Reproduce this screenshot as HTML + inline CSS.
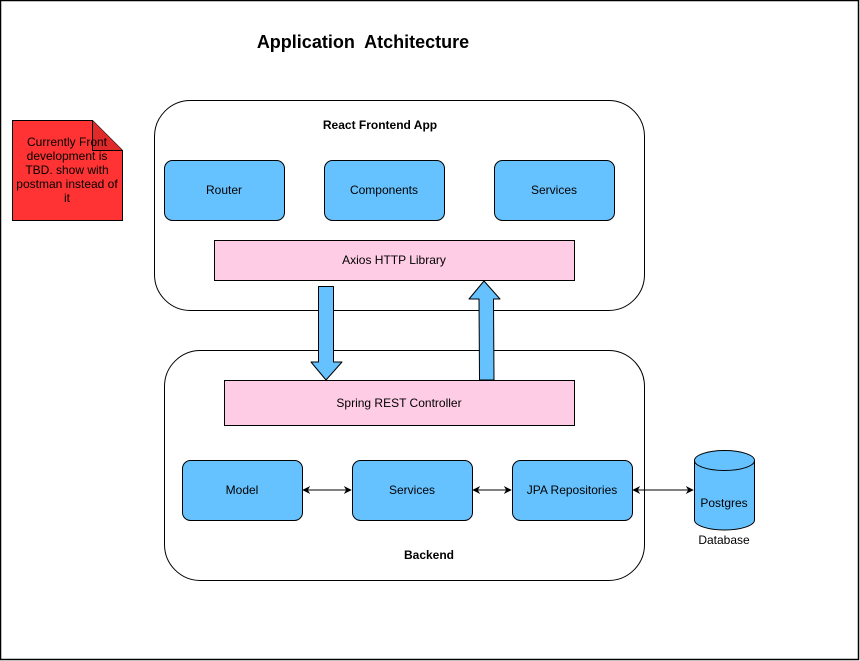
<!DOCTYPE html>
<html><head><meta charset="utf-8"><style>
html,body{margin:0;padding:0;background:#fff}
svg{display:block}
text{font-family:"Liberation Sans",Arial,sans-serif;fill:#000}
</style></head><body>
<svg width="860" height="661" viewBox="0 0 860 661" xmlns="http://www.w3.org/2000/svg">
<defs>
<marker id="ah" viewBox="0 0 10 10" refX="9" refY="5" markerWidth="8" markerHeight="8" orient="auto-start-reverse" markerUnits="userSpaceOnUse">
<path d="M0,0 L10,5 L0,10 L3,5 Z" fill="#000"/>
</marker>
</defs>
<rect x="0.5" y="0.5" width="858" height="659" fill="#fff" stroke="#000" stroke-width="1.5"/>
<text x="363" y="48" font-size="18" font-weight="bold" text-anchor="middle" xml:space="preserve">Application  Atchitecture</text>

<path d="M12.5,120.5 H92.5 L122.5,150.5 V220.5 H12.5 Z" fill="#ff3333" stroke="#000"/>
<path d="M92.5,120.5 V150.5 H122.5" fill="#e02a2a" stroke="#000"/>
<g font-size="12" text-anchor="middle">
<text x="67" y="146">Currently Front</text>
<text x="67" y="160">development is</text>
<text x="67" y="174">TBD. show with</text>
<text x="67" y="188">postman instead of</text>
<text x="67" y="202">it</text>
</g>

<rect x="154.5" y="100.5" width="490" height="210" rx="36" fill="#fff" stroke="#000"/>
<text x="380" y="129" font-size="12" font-weight="bold" text-anchor="middle">React Frontend App</text>
<g fill="#66c2ff" stroke="#000">
<rect x="164.5" y="160.5" width="120" height="60" rx="8"/>
<rect x="324.5" y="160.5" width="120" height="60" rx="8"/>
<rect x="494.5" y="160.5" width="120" height="60" rx="8"/>
</g>
<g font-size="12" text-anchor="middle">
<text x="224" y="194">Router</text>
<text x="384" y="194">Components</text>
<text x="554" y="194">Services</text>
</g>
<rect x="214.5" y="240.5" width="360" height="40" fill="#ffcce6" stroke="#000"/>
<text x="394" y="264" font-size="12" text-anchor="middle">Axios HTTP Library</text>

<rect x="164.5" y="350.5" width="480" height="230" rx="36" fill="#fff" stroke="#000"/>
<rect x="224.5" y="380.5" width="350" height="45" fill="#ffcce6" stroke="#000"/>
<text x="399" y="407" font-size="12" text-anchor="middle">Spring REST Controller</text>

<g fill="#66c2ff" stroke="#000">
<rect x="182.5" y="460.5" width="120" height="60" rx="8"/>
<rect x="352.5" y="460.5" width="120" height="60" rx="8"/>
<rect x="512.5" y="460.5" width="120" height="60" rx="8"/>
</g>
<g font-size="12" text-anchor="middle">
<text x="242" y="494">Model</text>
<text x="412" y="494">Services</text>
<text x="572" y="494">JPA Repositories</text>
<text x="429" y="559" font-weight="bold">Backend</text>
</g>
<g stroke="#000" stroke-width="1">
<line x1="303" y1="490" x2="351" y2="490" marker-start="url(#ah)" marker-end="url(#ah)"/>
<line x1="473" y1="490" x2="511" y2="490" marker-start="url(#ah)" marker-end="url(#ah)"/>
<line x1="633" y1="490" x2="693" y2="490" marker-start="url(#ah)" marker-end="url(#ah)"/>
</g>

<path d="M694.5,460.5 V520 A30,10 0 0 0 754.5,520 V460.5" fill="#66c2ff" stroke="#000"/>
<ellipse cx="724.5" cy="460.5" rx="30" ry="10" fill="#66c2ff" stroke="#000"/>
<text x="724" y="507" font-size="12" text-anchor="middle">Postgres</text>
<text x="724" y="544" font-size="12" text-anchor="middle">Database</text>

<path d="M318.5,286.5 H333.5 V362 H342 L326,380 L311,362 H318.5 Z" fill="#66c2ff" stroke="#000" stroke-linejoin="round"/>
<path d="M479.5,380 H494 L493.5,299 H500 L484,281 L469,299 H479 Z" fill="#66c2ff" stroke="#000" stroke-linejoin="round"/>
</svg>
</body></html>
